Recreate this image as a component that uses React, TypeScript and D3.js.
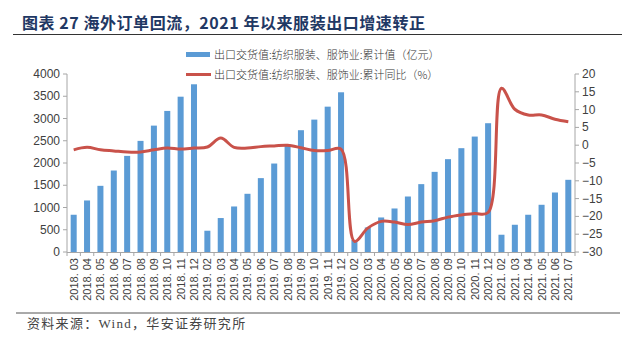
import React from "react";
import * as d3 from "d3";

const categories = [
  "2018.03","2018.04","2018.05","2018.06","2018.07","2018.08","2018.09","2018.10","2018.11","2018.12",
  "2019.02","2019.03","2019.04","2019.05","2019.06","2019.07","2019.08","2019.09","2019.10","2019.11","2019.12",
  "2020.02","2020.03","2020.04","2020.05","2020.06","2020.07","2020.08","2020.09","2020.10","2020.11","2020.12",
  "2021.02","2021.03","2021.04","2021.05","2021.06","2021.07",
];
const cumValue = [
  837, 1158, 1487, 1831, 2160, 2497, 2840, 3170, 3490, 3769,
  478, 763, 1023, 1308, 1660, 1988, 2423, 2737, 2975, 3266, 3589,
  270, 552, 776, 978, 1247, 1525, 1801, 2086, 2333, 2594, 2894,
  388, 612, 837, 1061, 1337, 1622,
];
const cumYoY = [
  -1.3, -0.6, -1.3, -1.6, -1.9, -1.9, -1.3, -0.8, -1.1, -0.8,
  -0.5, 2.0, -0.6, -0.8, -0.4, -0.2, 0.0, -0.7, -1.5, -1.5, -1.1,
  -27.0, -23.3, -21.4, -21.6, -22.3, -21.6, -21.2, -20.2, -19.6, -19.2, -18.9,
  16.0, 10.1, 8.5, 8.5, 7.3, 6.6,
];
const leftTicks = [0, 500, 1000, 1500, 2000, 2500, 3000, 3500, 4000];
const rightTicks = [-30, -25, -20, -15, -10, -5, 0, 5, 10, 15, 20];
const title = "图表 27  海外订单回流，2021 年以来服装出口增速转正";
const legendBar = "出口交货值:纺织服装、服饰业:累计值（亿元）";
const legendLine = "出口交货值:纺织服装、服饰业:累计同比（%）";
const source = "资料来源：Wind，华安证券研究所";

const W = 637, H = 341;
const plot = { left: 67, right: 575, top: 74, bottom: 252 };
const BAR = "#5B9BD5";
const LINE = "#C9524A";
const AXIS = "#A6A6A6";
const TXT = "#404040";

export default function App() {
  const x = d3.scaleBand<string>().domain(categories).range([plot.left, plot.right]).paddingInner(0.55).paddingOuter(0.275);
  const xb = d3.scaleBand<string>().domain(categories).range([plot.left, plot.right]);
  const yL = d3.scaleLinear().domain([0, 4000]).range([plot.bottom, plot.top]);
  const yR = d3.scaleLinear().domain([-30, 20]).range([plot.bottom, plot.top]);
  const line = d3.line<number>()
    .x((_, i) => (xb(categories[i]) as number) + xb.bandwidth() / 2)
    .y((d) => yR(d))
    .curve(d3.curveCatmullRom.alpha(0.5));
  const serif = "'Liberation Serif','Noto Sans CJK SC',serif";
  const sans = "'Liberation Sans',Arial,sans-serif";
  return (
    <svg width={W} height={H} style={{ position: "absolute", left: 0, top: 0, background: "#fff" }}>
      <text x={22} y={29} fontFamily="'Noto Sans CJK SC',sans-serif" fontWeight={700} fontSize={16} letterSpacing={0.55} fill="#1F3864">{title}</text>
      <line x1={13} x2={622} y1={34.5} y2={34.5} stroke="#333" strokeWidth={1.2} />

      <rect x={186} y={52} width={24} height={5} fill={BAR} />
      <text x={214} y={58.5} fontFamily="'Noto Sans CJK SC',sans-serif" fontSize={11} fill="#333" fontWeight={300}>{legendBar}</text>
      <line x1={186} x2={211} y1={74.5} y2={74.5} stroke={LINE} strokeWidth={3} />
      <text x={214} y={78.5} fontFamily="'Noto Sans CJK SC',sans-serif" fontSize={11} fill="#333" fontWeight={300}>{legendLine}</text>

      {categories.map((c, i) => (
        <rect key={c} x={x(c)} y={yL(cumValue[i])} width={x.bandwidth()} height={plot.bottom - yL(cumValue[i])} fill={BAR} />
      ))}

      <path d={line(cumYoY) || ""} fill="none" stroke={LINE} strokeWidth={3} strokeLinejoin="round" />

      {/* axes */}
      <line x1={plot.left} x2={plot.left} y1={plot.top} y2={plot.bottom} stroke={AXIS} />
      <line x1={plot.right} x2={plot.right} y1={plot.top} y2={plot.bottom} stroke={AXIS} />
      <line x1={plot.left} x2={plot.right} y1={plot.bottom + 0.5} y2={plot.bottom + 0.5} stroke={AXIS} />
      {leftTicks.map((t) => (
        <g key={"l" + t}>
          <line x1={plot.left - 4} x2={plot.left} y1={yL(t)} y2={yL(t)} stroke={AXIS} />
          <text x={plot.left - 7} y={yL(t) + 4} textAnchor="end" fontFamily={sans} fontSize={12} fill={TXT}>{t}</text>
        </g>
      ))}
      {rightTicks.map((t) => (
        <g key={"r" + t}>
          <line x1={plot.right} x2={plot.right + 4} y1={yR(t)} y2={yR(t)} stroke={AXIS} />
          <text x={plot.right + 7} y={yR(t) + 4} textAnchor="start" fontFamily={sans} fontSize={12} fill={TXT}>{t < 0 ? "−" + Math.abs(t) : t}</text>
        </g>
      ))}
      {categories.map((c) => (
        <line key={"t" + c} x1={xb(c)} x2={xb(c)} y1={plot.bottom} y2={plot.bottom + 4} stroke={AXIS} />
      ))}
      <line x1={plot.right} x2={plot.right} y1={plot.bottom} y2={plot.bottom + 4} stroke={AXIS} />
      {categories.map((c) => {
        const cx = (xb(c) as number) + xb.bandwidth() / 2 + 4;
        return (
          <text key={"x" + c} transform={`translate(${cx},${plot.bottom + 6}) rotate(-90)`} textAnchor="end" fontFamily={sans} fontSize={11} fill={TXT}>{c.replace(".", ". ")}</text>
        );
      })}

      <line x1={16} x2={620} y1={313} y2={313} stroke="#555" strokeWidth={1} />
      <text x={27} y={328} fontFamily={serif} fontSize={13} letterSpacing={1.3} fill="#444">{source}</text>
    </svg>
  );
}
